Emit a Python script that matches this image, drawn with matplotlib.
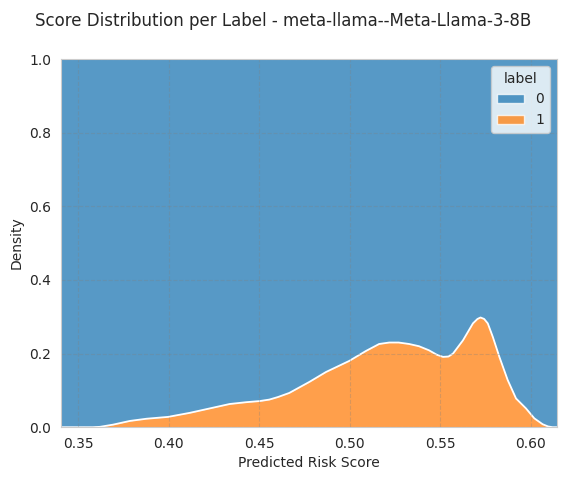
import matplotlib
matplotlib.use("Agg")
import matplotlib.pyplot as plt
import seaborn as sns
from matplotlib.patches import Patch

sns.set_style("whitegrid")

# Predicted risk score grid and share of label 1 (stacked-to-1 density)
score = [0.3406, 0.350, 0.358, 0.3621, 0.3694, 0.3786, 0.3878, 0.3997, 0.4117, 0.4227,
         0.4337, 0.4430, 0.4503, 0.4556, 0.4604, 0.4666, 0.4777, 0.4869, 0.4997, 0.5089,
         0.5162, 0.5218, 0.5270, 0.5328, 0.5382, 0.5437, 0.5480, 0.5515, 0.5545, 0.557,
         0.5625, 0.568, 0.5705, 0.5722, 0.5742, 0.5762, 0.579, 0.5826, 0.5872, 0.5918,
         0.5973, 0.6019, 0.6065, 0.6095, 0.612, 0.6143]
share_label1 = [0.0, 0.0, 0.0, 0.001, 0.007, 0.017, 0.023, 0.028, 0.039, 0.051,
                0.063, 0.068, 0.071, 0.075, 0.082, 0.093, 0.123, 0.150, 0.180, 0.207,
                0.226, 0.230, 0.230, 0.226, 0.220, 0.209, 0.197, 0.191, 0.192, 0.200,
                0.236, 0.282, 0.294, 0.298, 0.294, 0.282, 0.245, 0.191, 0.128, 0.078,
                0.051, 0.024, 0.008, 0.002, 0.0, 0.0]
labels = ["0", "1"]
colors = ["#1f77b4", "#ff7f0e"]

fig = plt.figure(figsize=(5.67, 4.8), dpi=100)
ax = fig.add_axes([0.1076, 0.110, 0.8744, 0.767])

ax.fill_between(score, share_label1, 1.0, color=colors[0], alpha=0.75,
                linewidth=0, zorder=1)
ax.fill_between(score, 0, share_label1, color=colors[1], alpha=0.75,
                linewidth=0, zorder=1)
ax.plot(score, share_label1, color="white", linewidth=1.3, zorder=2,
        solid_joinstyle="round")

ax.set_xlim(score[0], score[-1])
ax.set_ylim(0, 1)
ax.set_xticks([0.35, 0.40, 0.45, 0.50, 0.55, 0.60])
ax.set_yticks([0.0, 0.2, 0.4, 0.6, 0.8, 1.0])
ax.set_axisbelow(False)
ax.grid(True, linestyle="--", color="gray", alpha=0.3, linewidth=0.8, zorder=3)
for s in ax.spines.values():
    s.set_zorder(4)

ax.set_xlabel("Predicted Risk Score")
ax.set_ylabel("Density")
fig.suptitle("Score Distribution per Label - meta-llama--Meta-Llama-3-8B",
             fontsize=12, y=0.975)

handles = [Patch(facecolor=c, alpha=0.75, edgecolor="white") for c in colors]
ax.legend(handles, labels, title="label", loc="upper right")

fig.savefig("out.png", dpi=100)
